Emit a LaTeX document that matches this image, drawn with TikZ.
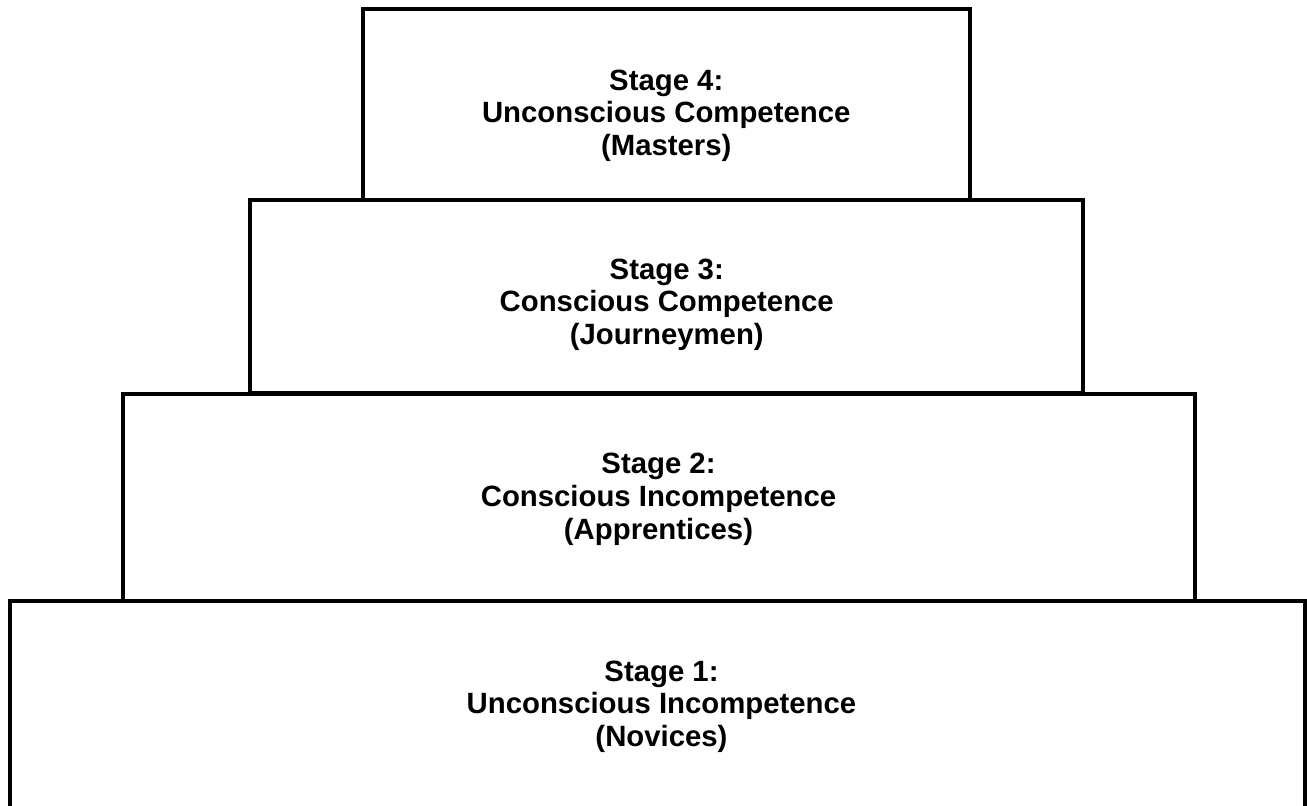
\documentclass[tikz,border=0pt]{standalone}
\usepackage{fontspec}
\setmainfont{Liberation Sans}
\usepackage{tikz}

\tikzset{
  stagebox/.style={draw=black, line width=3pt, inner sep=0pt},
  stagetext/.style={align=center, inner sep=0pt,
    font={\bfseries\fontsize{22}{24.5}\selectfont}},
}

\begin{document}
\begin{tikzpicture}[x=0.75pt, y=-0.75pt]
        \useasboundingbox (0,0) rectangle (1307,806);
        \node[stagebox, minimum width=455.6pt, minimum height=143.3pt] (stage4) at (666.25,104.5) {};
        \node[stagebox, minimum width=625.1pt, minimum height=145.1pt] (stage3) at (666.75,296.75) {};
        \node[stagebox, minimum width=804pt, minimum height=155.6pt] (stage2) at (658.5,497.25) {};
        \node[stagebox, minimum width=971.25pt, minimum height=156.75pt] (stage1) at (657.5,705.5) {};
        \node[stagetext] (text4) at (666.25,115.5) {Stage 4:\\Unconscious Competence\\(Masters)};
        \node[stagetext] (text3) at (666.75,304.75) {Stage 3:\\Conscious Competence\\(Journeymen)};
        \node[stagetext] (text2) at (658.5,499.25) {Stage 2:\\Conscious Incompetence\\(Apprentices)};
        \node[stagetext] (text1) at (661.5,706.5) {Stage 1:\\Unconscious Incompetence\\(Novices)};
    \end{tikzpicture}
\end{document}
